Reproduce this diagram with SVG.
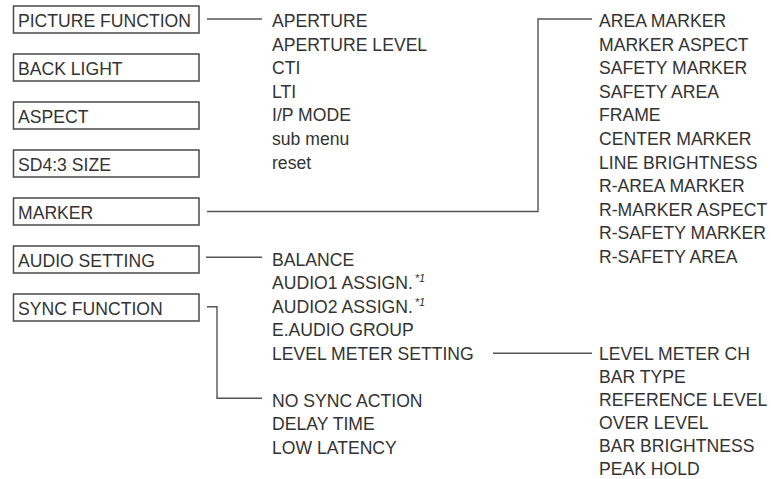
<svg xmlns="http://www.w3.org/2000/svg" width="771" height="479" viewBox="0 0 771 479">
<style>
.box{fill:#fff;stroke:#4a4a4a;stroke-width:1.5}
.t{font-family:"Liberation Sans",Arial,sans-serif;font-size:17.6px;fill:#333}
.sup{font-family:"Liberation Sans",Arial,sans-serif;font-size:11px;font-style:italic;fill:#333}
.c{fill:none;stroke:#555;stroke-width:1.4}
</style>
<rect width="771" height="479" fill="#fff"/>
<g id="connectors">
<path class="c" d="M207 19 H262"/>
<path class="c" d="M207 211.5 H538 V19 H592"/>
<path class="c" d="M206 257.3 H262"/>
<path class="c" d="M207 306.7 H217 V398.3 H262"/>
<path class="c" d="M493 353.3 H592"/>
</g>
<g id="picture-function"><rect class="box" x="13.5" y="6" width="185.5" height="27"/><text class="t" x="18" y="27">PICTURE FUNCTION</text></g>
<g id="back-light"><rect class="box" x="13.5" y="54" width="185.5" height="27"/><text class="t" x="18" y="75">BACK LIGHT</text></g>
<g id="aspect"><rect class="box" x="13.5" y="102" width="185.5" height="27"/><text class="t" x="18" y="123">ASPECT</text></g>
<g id="sd43-size"><rect class="box" x="13.5" y="150" width="185.5" height="27"/><text class="t" x="18" y="171">SD4:3 SIZE</text></g>
<g id="marker"><rect class="box" x="13.5" y="198" width="185.5" height="27"/><text class="t" x="18" y="219">MARKER</text></g>
<g id="audio-setting"><rect class="box" x="13.5" y="246" width="185.5" height="27"/><text class="t" x="18" y="267">AUDIO SETTING</text></g>
<g id="sync-function"><rect class="box" x="13.5" y="294" width="185.5" height="27"/><text class="t" x="18" y="315">SYNC FUNCTION</text></g>
<g id="picture-items">
<text class="t" x="272" y="27">APERTURE</text>
<text class="t" x="272" y="50.6">APERTURE LEVEL</text>
<text class="t" x="272" y="74.2">CTI</text>
<text class="t" x="272" y="97.8">LTI</text>
<text class="t" x="272" y="121.4">I/P MODE</text>
<text class="t" x="272" y="145">sub menu</text>
<text class="t" x="272" y="168.6">reset</text>
</g>
<g id="marker-items">
<text class="t" x="599" y="27">AREA MARKER</text>
<text class="t" x="599" y="50.6">MARKER ASPECT</text>
<text class="t" x="599" y="74.2">SAFETY MARKER</text>
<text class="t" x="599" y="97.8">SAFETY AREA</text>
<text class="t" x="599" y="121.4">FRAME</text>
<text class="t" x="599" y="145">CENTER MARKER</text>
<text class="t" x="599" y="168.6">LINE BRIGHTNESS</text>
<text class="t" x="599" y="192.2">R-AREA MARKER</text>
<text class="t" x="599" y="215.8">R-MARKER ASPECT</text>
<text class="t" x="599" y="239.4">R-SAFETY MARKER</text>
<text class="t" x="599" y="263">R-SAFETY AREA</text>
</g>
<g id="audio-items">
<text class="t" x="272" y="265.5">BALANCE</text>
<text class="t" x="272" y="289">AUDIO1 ASSIGN.<tspan class="sup" dx="2" dy="-7">*1</tspan></text>
<text class="t" x="272" y="312.5">AUDIO2 ASSIGN.<tspan class="sup" dx="2" dy="-7">*1</tspan></text>
<text class="t" x="272" y="336">E.AUDIO GROUP</text>
<text class="t" x="272" y="359.5">LEVEL METER SETTING</text>
</g>
<g id="sync-items">
<text class="t" x="272" y="406.5">NO SYNC ACTION</text>
<text class="t" x="272" y="430">DELAY TIME</text>
<text class="t" x="272" y="453.5">LOW LATENCY</text>
</g>
<g id="level-meter-items">
<text class="t" x="599" y="359.5">LEVEL METER CH</text>
<text class="t" x="599" y="382.6">BAR TYPE</text>
<text class="t" x="599" y="405.7">REFERENCE LEVEL</text>
<text class="t" x="599" y="428.8">OVER LEVEL</text>
<text class="t" x="599" y="451.9">BAR BRIGHTNESS</text>
<text class="t" x="599" y="475">PEAK HOLD</text>
</g>
</svg>
